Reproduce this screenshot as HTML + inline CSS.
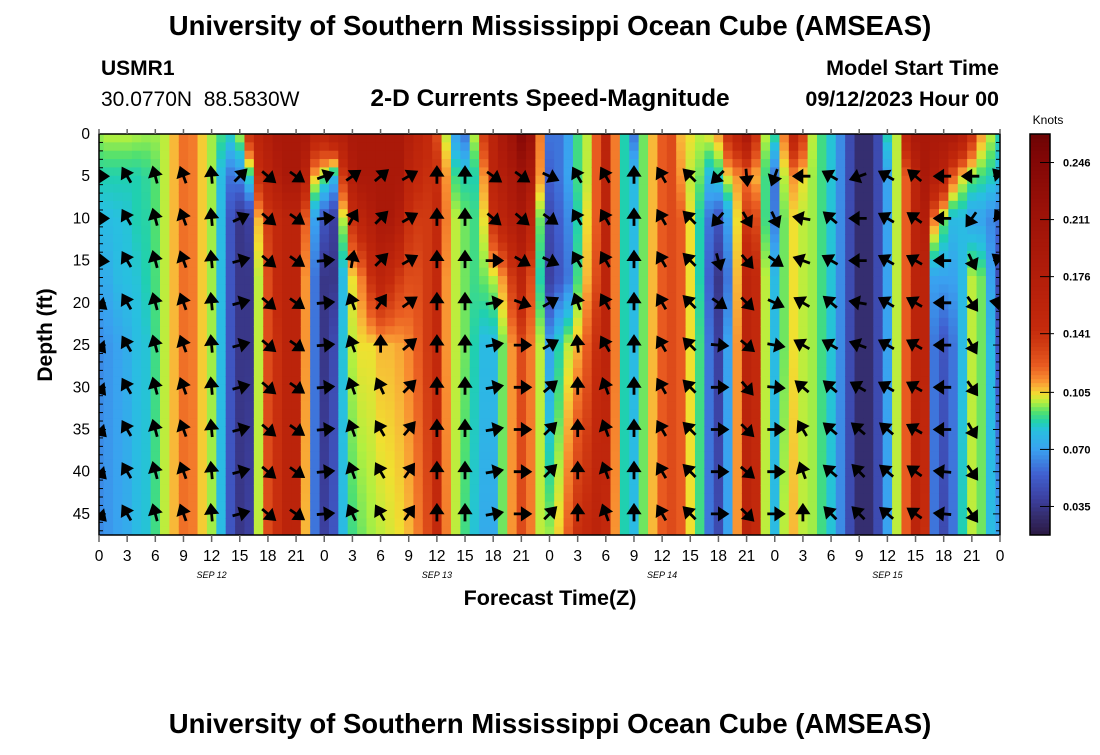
<!DOCTYPE html>
<html><head><meta charset="utf-8"><style>
body{margin:0;background:#fff;width:1100px;height:750px;overflow:hidden;font-family:"Liberation Sans",sans-serif}
svg text{font-family:"Liberation Sans",sans-serif}
</style></head><body>
<svg id="chart" width="1100" height="750" xmlns="http://www.w3.org/2000/svg">
<text x="550" y="35" text-anchor="middle" font-size="27.5" font-weight="bold">University of Southern Mississippi Ocean Cube (AMSEAS)</text>
<text x="101" y="75" font-size="21" font-weight="bold">USMR1</text>
<text x="101" y="106" font-size="21" xml:space="preserve">30.0770N  88.5830W</text>
<text x="550" y="106" text-anchor="middle" font-size="24.5" font-weight="bold">2-D Currents Speed-Magnitude</text>
<text x="999" y="75" text-anchor="end" font-size="21.5" font-weight="bold">Model Start Time</text>
<text x="999" y="106" text-anchor="end" font-size="21.5" font-weight="bold">09/12/2023 Hour 00</text>
<text transform="translate(52,335) rotate(-90)" text-anchor="middle" font-size="21" font-weight="bold">Depth (ft)</text>
<text x="550" y="605" text-anchor="middle" font-size="21.5" font-weight="bold">Forecast Time(Z)</text>
<text x="1048" y="124" text-anchor="middle" font-size="12">Knots</text>
<text x="550" y="733" text-anchor="middle" font-size="27.5" font-weight="bold">University of Southern Mississippi Ocean Cube (AMSEAS)</text>
<defs><clipPath id="pc"><rect x="99" y="134" width="901" height="401"/></clipPath></defs>
<g id="heat" clip-path="url(#pc)"></g>
<g id="arrows" clip-path="url(#pc)"></g>
<g id="axes"></g>
<g id="cbar"></g>
</svg>
<script>
const hours = Array.from({length:97},(_,i)=>i);
const depthLevels = [0,5,10,17,25,47.5];
const speed = [
[0.098,0.087,0.08,0.074,0.065,0.065],[0.1,0.087,0.081,0.075,0.068,0.068],[0.1,0.087,0.082,0.08,0.071,0.071],[0.1,0.087,0.083,0.082,0.075,0.074],
[0.099,0.087,0.087,0.083,0.081,0.08],[0.098,0.089,0.088,0.087,0.083,0.083],[0.098,0.093,0.093,0.092,0.091,0.091],[0.1,0.1,0.1,0.1,0.1,0.1],
[0.108,0.108,0.108,0.108,0.108,0.108],[0.118,0.118,0.118,0.118,0.118,0.118],[0.116,0.116,0.116,0.116,0.116,0.116],[0.106,0.106,0.106,0.106,0.106,0.106],
[0.098,0.098,0.098,0.098,0.098,0.098],[0.091,0.08,0.08,0.08,0.08,0.08],[0.087,0.06,0.05,0.05,0.05,0.05],[0.1,0.065,0.035,0.035,0.035,0.035],
[0.142,0.087,0.04,0.035,0.035,0.04],[0.16,0.142,0.108,0.1,0.1,0.1],[0.175,0.16,0.135,0.128,0.128,0.128],[0.19,0.175,0.148,0.148,0.142,0.142],
[0.19,0.19,0.16,0.16,0.16,0.16],[0.19,0.19,0.16,0.16,0.16,0.16],[0.19,0.16,0.122,0.112,0.112,0.108],[0.16,0.108,0.071,0.06,0.06,0.06],
[0.16,0.095,0.05,0.035,0.035,0.04],[0.175,0.08,0.04,0.035,0.045,0.05],[0.175,0.135,0.1,0.08,0.083,0.08],[0.19,0.175,0.142,0.104,0.1,0.091],
[0.19,0.19,0.16,0.116,0.104,0.095],[0.19,0.19,0.175,0.142,0.104,0.098],[0.19,0.19,0.19,0.16,0.108,0.1],[0.19,0.19,0.19,0.148,0.108,0.102],
[0.19,0.19,0.175,0.135,0.11,0.104],[0.175,0.16,0.142,0.128,0.114,0.108],[0.16,0.148,0.135,0.128,0.122,0.116],[0.148,0.142,0.135,0.135,0.135,0.128],
[0.128,0.142,0.148,0.148,0.148,0.148],[0.1,0.112,0.116,0.112,0.112,0.116],[0.071,0.091,0.1,0.1,0.1,0.1],[0.06,0.087,0.095,0.095,0.095,0.091],
[0.1,0.087,0.091,0.091,0.087,0.083],[0.135,0.112,0.104,0.095,0.08,0.074],[0.16,0.16,0.142,0.1,0.08,0.074],[0.19,0.175,0.16,0.112,0.095,0.095],
[0.21,0.19,0.175,0.135,0.112,0.112],[0.24,0.21,0.19,0.16,0.128,0.128],[0.22,0.19,0.16,0.128,0.116,0.116],[0.116,0.112,0.095,0.087,0.1,0.1],
[0.06,0.055,0.045,0.04,0.071,0.098],[0.06,0.06,0.055,0.05,0.087,0.106],[0.071,0.071,0.065,0.06,0.1,0.122],[0.091,0.091,0.087,0.091,0.108,0.142],
[0.1,0.1,0.104,0.108,0.122,0.148],[0.122,0.122,0.122,0.128,0.142,0.16],[0.16,0.16,0.16,0.16,0.16,0.148],[0.116,0.116,0.116,0.116,0.116,0.112],
[0.087,0.087,0.087,0.087,0.087,0.087],[0.06,0.08,0.08,0.08,0.08,0.08],[0.095,0.095,0.095,0.095,0.095,0.095],[0.108,0.108,0.108,0.108,0.108,0.108],
[0.122,0.122,0.122,0.122,0.122,0.122],[0.128,0.128,0.128,0.128,0.128,0.128],[0.108,0.112,0.122,0.122,0.122,0.122],[0.104,0.1,0.104,0.104,0.104,0.104],
[0.1,0.095,0.087,0.087,0.091,0.091],[0.104,0.08,0.06,0.055,0.06,0.06],[0.112,0.087,0.05,0.035,0.04,0.045],[0.142,0.104,0.071,0.06,0.071,0.071],
[0.16,0.112,0.104,0.108,0.112,0.112],[0.19,0.116,0.135,0.16,0.16,0.16],[0.142,0.108,0.128,0.148,0.148,0.148],[0.1,0.091,0.091,0.1,0.1,0.1],
[0.091,0.06,0.062,0.08,0.08,0.08],[0.116,0.1,0.095,0.095,0.095,0.1],[0.16,0.112,0.104,0.104,0.104,0.108],[0.135,0.104,0.1,0.1,0.1,0.1],
[0.1,0.098,0.098,0.098,0.098,0.098],[0.091,0.091,0.091,0.091,0.091,0.091],[0.083,0.083,0.083,0.083,0.083,0.083],[0.065,0.065,0.065,0.065,0.065,0.065],
[0.045,0.045,0.045,0.045,0.045,0.045],[0.03,0.03,0.03,0.03,0.03,0.03],[0.03,0.03,0.03,0.03,0.03,0.03],[0.045,0.045,0.045,0.045,0.045,0.045],
[0.087,0.071,0.071,0.071,0.071,0.071],[0.1,0.1,0.1,0.1,0.1,0.1],[0.16,0.122,0.122,0.122,0.122,0.122],[0.19,0.16,0.16,0.16,0.16,0.16],
[0.19,0.19,0.175,0.16,0.16,0.142],[0.19,0.175,0.116,0.071,0.06,0.06],[0.19,0.16,0.095,0.071,0.05,0.045],[0.19,0.122,0.08,0.071,0.06,0.06],
[0.175,0.104,0.08,0.08,0.08,0.087],[0.142,0.095,0.071,0.1,0.1,0.1],[0.112,0.091,0.071,0.095,0.095,0.095],[0.1,0.087,0.065,0.071,0.08,0.08],
[0.087,0.08,0.06,0.045,0.05,0.071]
];
const arrowHours = Array.from({length:33},(_,i)=>i*3);
const arrowDepths = [5,10,15,20,25,30,35,40,45];
const arrowAngles = [
[90,90,95,130,140,140,135,135,135],[330,330,330,330,330,330,330,330,330],[345,345,345,345,345,345,345,345,345],[340,340,340,340,340,340,340,340,340],
[355,355,355,355,355,355,355,355,355],[45,65,75,75,75,75,75,75,75],[130,130,130,130,130,130,130,130,130],[125,125,125,125,125,125,125,125,125],
[70,85,85,85,85,85,85,85,85],[55,30,10,340,340,340,340,340,335],[50,45,45,35,0,335,330,330,330],[60,60,60,55,50,45,40,35,35],
[0,0,0,0,0,0,0,0,0],[0,0,0,0,0,0,0,0,0],[125,130,90,80,80,80,80,80,80],[125,130,120,110,90,90,90,90,90],
[115,125,115,60,60,50,45,45,45],[330,330,330,340,355,0,0,0,0],[330,330,330,330,330,340,340,340,340],[0,0,0,0,0,0,0,0,0],
[330,330,330,330,330,330,330,330,330],[315,315,315,315,315,315,315,315,315],[225,220,165,125,95,90,90,90,90],[175,150,140,135,130,140,135,130,135],
[200,155,125,115,100,95,90,90,90],[270,280,290,300,300,310,330,340,0],[300,310,300,310,300,310,310,310,315],[250,270,270,280,290,300,310,315,315],
[300,300,300,300,300,300,310,310,310],[310,305,300,300,300,300,300,305,305],[270,270,270,270,270,270,270,275,275],[270,215,155,145,150,145,150,145,145],
[315,330,310,280,null,null,null,null,null]
];
const yTickLabels = ["0","5","10","15","20","25","30","35","40","45"];
const xTickLabels = ["0","3","6","9","12","15","18","21","0","3","6","9","12","15","18","21","0","3","6","9","12","15","18","21","0","3","6","9","12","15","18","21","0"];
const dayLabels = ["SEP 12","SEP 13","SEP 14","SEP 15"];
const cbarTicks = [0.035,0.070,0.105,0.141,0.176,0.211,0.246];
const vMin = 0.0175, vMax = 0.2635;
const cmapStops = [[0.017,'#2a1840'],[0.03,'#352e70'],[0.04,'#3c40a0'],[0.055,'#4060d0'],[0.07,'#3aa0f0'],[0.082,'#28c0e0'],[0.087,'#20d0b0'],[0.093,'#50e070'],[0.099,'#b0f040'],[0.104,'#f0e030'],[0.108,'#f8b838'],[0.113,'#f88c30'],[0.122,'#e85a20'],[0.135,'#d03a12'],[0.145,'#c42a0c'],[0.18,'#b01c0a'],[0.215,'#9c1208'],[0.25,'#800606'],[0.264,'#6c0404']];

const NS="http://www.w3.org/2000/svg";
const X0=99,X1=1000,Y0=134,Y1=535,DMAX=47.5,HMAX=96;
function xScale(h){return X0+h*(X1-X0)/HMAX;}
function yScale(d){return Y0+d*(Y1-Y0)/DMAX;}
function hex(c){return [1,3,5].map(i=>parseInt(c.substr(i,2),16));}
function color(v){
 if(v<=cmapStops[0][0])return cmapStops[0][1];
 for(let i=0;i<cmapStops.length-1;i++){
  const [a,ca]=cmapStops[i],[b,cb]=cmapStops[i+1];
  if(v<=b){const f=(v-a)/(b-a),A=hex(ca),B=hex(cb);
   return `rgb(${A.map((x,k)=>Math.round(x+(B[k]-x)*f)).join(',')})`;}
 }
 return cmapStops[cmapStops.length-1][1];}
function mk(tag,attrs,parent){const e=document.createElementNS(NS,tag);for(const k in attrs)e.setAttribute(k,attrs[k]);parent.appendChild(e);return e;}
function valAt(col,d){
 for(let i=0;i<depthLevels.length-1;i++){
  if(d<=depthLevels[i+1]){const f=(d-depthLevels[i])/(depthLevels[i+1]-depthLevels[i]);return col[i]+(col[i+1]-col[i])*f;}
 }return col[col.length-1];}
const heat=document.getElementById('heat');
hours.forEach((h,i)=>{
 const xa=xScale(Math.max(0,h-0.5)),xb=xScale(Math.min(HMAX,h+0.5));
 for(let d=0;d<48;d++){
  const d0=d*DMAX/48,d1=(d+1)*DMAX/48;
  const v=valAt(speed[i],(d0+d1)/2);
  const r=mk('rect',{x:xa.toFixed(2),y:yScale(d0).toFixed(2),width:(xb-xa+0.6).toFixed(2),height:(yScale(d1)-yScale(d0)+0.6).toFixed(2),fill:color(v)},heat);
  
  
 }
});
const arrows=document.getElementById('arrows');
arrowHours.forEach((h,i)=>{
 arrowDepths.forEach((d,j)=>{
  const a=arrowAngles[i][j]; if(a===null)return;
  const cx=xScale(h),cy=yScale(d);
  const p=mk('path',{d:'M0,7.5 L0,-2 M-5,-1 L0,-8.5 L5,-1 Z',stroke:'#000','stroke-width':'2.8',fill:'#000','stroke-linejoin':'miter',transform:`translate(${cx.toFixed(1)},${cy.toFixed(1)}) rotate(${a})`},arrows);
  
  
 });
});
const axes=document.getElementById('axes');
mk('rect',{x:X0,y:Y0,width:X1-X0,height:Y1-Y0,fill:'none',stroke:'#000','stroke-width':'1.5'},axes);
for(let d=0;d<=47;d++){
 const y=yScale(d),L=d%5===0?7:4;
 mk('line',{x1:X0,y1:y,x2:X0+L,y2:y,stroke:'#000','stroke-width':'1'},axes);
 mk('line',{x1:X1,y1:y,x2:X1-L,y2:y,stroke:'#000','stroke-width':'1'},axes);
}
yTickLabels.forEach((t,i)=>{
 const tx=mk('text',{x:90,y:(yScale(i*5)+5).toFixed(1),'text-anchor':'end','font-size':'15.5'},axes);tx.textContent=t;
 
 
});
xTickLabels.forEach((t,i)=>{
 const x=xScale(i*3);
 mk('line',{x1:x,y1:Y1,x2:x,y2:Y1+7,stroke:'#666','stroke-width':'1.5'},axes);
 mk('line',{x1:x,y1:Y0,x2:x,y2:Y0-5,stroke:'#666','stroke-width':'1.5'},axes);
 const tx=mk('text',{x:x.toFixed(1),y:561,'text-anchor':'middle','font-size':'15.5'},axes);tx.textContent=t;
 
 
});
dayLabels.forEach((t,i)=>{
 const tx=mk('text',{x:xScale(i*24+12).toFixed(1),y:578,'text-anchor':'middle','font-size':'9','font-style':'italic','font-family':'Liberation Mono, monospace'},axes);tx.textContent=t;
 
 
});
const cbar=document.getElementById('cbar');
const CX=1030,CW=20;
function cy(v){return Y1-(v-vMin)/(vMax-vMin)*(Y1-Y0);}
for(let k=0;k<100;k++){
 const v0=vMin+(vMax-vMin)*k/100,v1=vMin+(vMax-vMin)*(k+1)/100;
 const r=mk('rect',{x:CX,y:cy(v1).toFixed(2),width:CW,height:(cy(v0)-cy(v1)+0.5).toFixed(2),fill:color((v0+v1)/2)},cbar);
 
 
}
mk('rect',{x:CX,y:Y0,width:CW,height:Y1-Y0,fill:'none',stroke:'#000','stroke-width':'1.5'},cbar);
cbarTicks.forEach(v=>{
 const y=cy(v);
 mk('line',{x1:CX+CW/2,y1:y,x2:CX+CW+4,y2:y,stroke:'#000','stroke-width':'1'},cbar);
 const tx=mk('text',{x:1063,y:(y+4).toFixed(1),'font-size':'11','font-weight':'bold'},cbar);tx.textContent=v.toFixed(3);
 
 
});
</script>
</body></html>
